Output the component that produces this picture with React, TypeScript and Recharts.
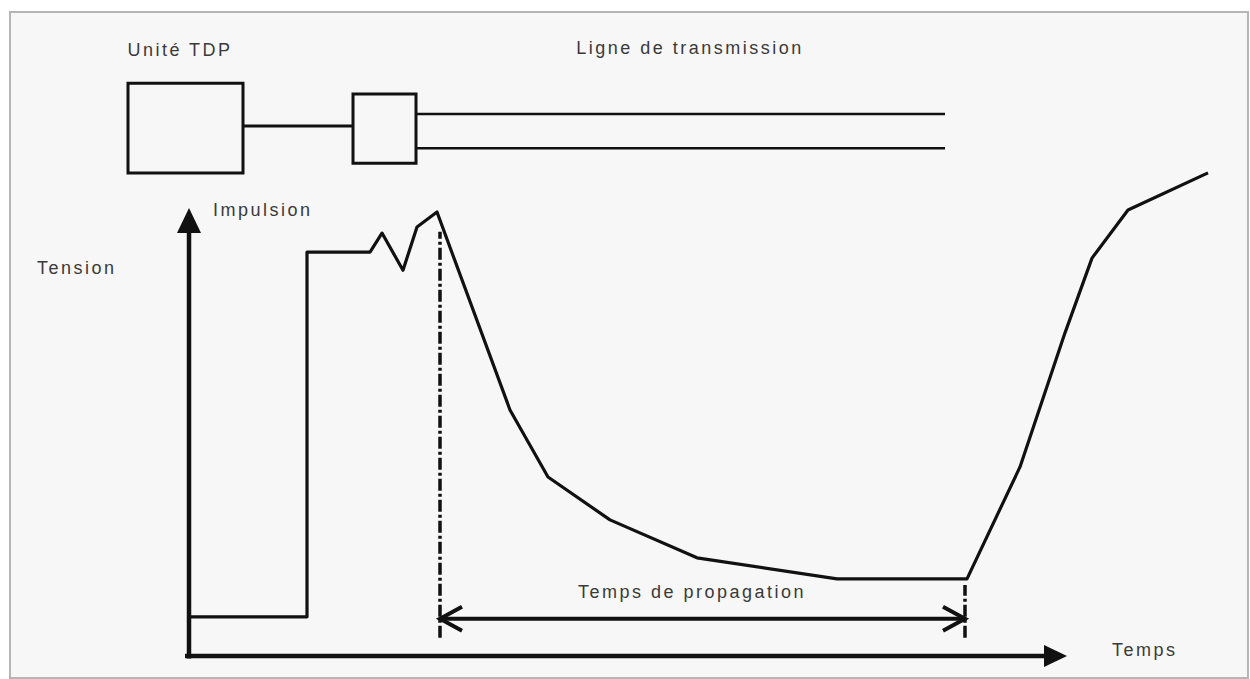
import { LineChart, Line, XAxis, YAxis, ReferenceLine, ReferenceArea, ReferenceDot } from "recharts";

// time axis (arbitrary units) and the reflected voltage
const temps = [0, 11.8, 11.8, 18.1, 19.3, 21.4, 22.8, 24.8, 32.1, 35.9, 42.1, 50.8, 64.8, 77.8, 83.1, 87.6, 90.3, 93.9, 101.9];
const tension = [9.7, 9.7, 100, 100, 104.7, 95.5, 106.2, 109.9, 60.9, 44.3, 33.7, 24.3, 19.1, 19.1, 46.8, 80.0, 98.5, 110.4, 119.6];

// start / end of the propagation time, and level of the double arrow
const propagation = [25.1, 77.6];
const propagationLevel = 9.2;
const markerTops = [105, 17.6];
const markerBottom = 4.5;

// axis ends
const axisTimeEnd = 87.8;
const axisTensionEnd = 110.9;

// schematic at the top: TDR unit, connector, transmission line
const boxes = [
  { t1: -6.1, t2: 5.4, v1: 119.6, v2: 141.8 },
  { t1: 16.4, t2: 22.7, v1: 122.0, v2: 139.1 },
];
const wires = [
  { t1: 5.4, t2: 16.4, v: 131.2, w: 3 },
  { t1: 22.7, t2: 75.6, v: 134.2, w: 2.5 },
  { t1: 22.7, t2: 75.6, v: 125.7, w: 2.5 },
];

const labels = [
  { text: "Unité TDP", t: -0.9, v: 150.0, anchor: "middle" },
  { text: "Ligne de transmission", t: 50.1, v: 150.5, anchor: "middle" },
  { text: "Impulsion", t: 2.4, v: 110.4, anchor: "start" },
  { text: "Tension", t: -15.2, v: 96.0, anchor: "start" },
  { text: "Temps de propagation", t: 50.3, v: 15.8, anchor: "middle" },
  { text: "Temps", t: 92.3, v: 1.5, anchor: "start" },
];

const data = temps.map((t, i) => ({ t, v: tension[i] }));

const INK = "#111";

const TextShape = (text: string, anchor: string) => (p: any) => (
  <text
    x={p.cx}
    y={p.cy}
    textAnchor={anchor}
    dominantBaseline="central"
    fontFamily="'Liberation Sans', Arial, sans-serif"
    fontSize={18}
    letterSpacing={2.5}
    fill="#3a3a3a"
  >
    {text}
  </text>
);

const ArrowUp = (p: any) => (
  <path d={`M${p.cx},${p.cy} L${p.cx - 12},${p.cy + 25} L${p.cx + 12},${p.cy + 25} Z`} fill={INK} />
);
const ArrowRight = (p: any) => (
  <path d={`M${p.cx},${p.cy} L${p.cx - 23},${p.cy - 11} L${p.cx - 23},${p.cy + 11} Z`} fill={INK} />
);
const OpenLeft = (p: any) => (
  <path d={`M${p.cx + 22},${p.cy - 12} L${p.cx},${p.cy} L${p.cx + 22},${p.cy + 12}`} fill="none" stroke={INK} strokeWidth={4} />
);
const OpenRight = (p: any) => (
  <path d={`M${p.cx - 22},${p.cy - 12} L${p.cx},${p.cy} L${p.cx - 22},${p.cy + 12}`} fill="none" stroke={INK} strokeWidth={4} />
);

export default function App() {
  return (
    <div style={{ position: "absolute", left: 0, top: 0, width: 1250, height: 679, background: "#fff" }}>
      <div
        style={{
          position: "absolute",
          left: 9,
          top: 11,
          width: 1236,
          height: 664,
          border: "2px solid #b5b5b5",
          background: "#f7f7f7",
        }}
      />
      <div style={{ position: "absolute", left: 0, top: 0 }}>
        <LineChart width={1250} height={679} data={data} margin={{ top: 0, right: 0, bottom: 0, left: 0 }}>
          <XAxis type="number" dataKey="t" domain={[-18.9, 106.1]} allowDataOverflow hide />
          <YAxis type="number" domain={[-5.7, 162.4]} allowDataOverflow hide />

          {boxes.map((b, i) => (
            <ReferenceArea key={`b${i}`} x1={b.t1} x2={b.t2} y1={b.v1} y2={b.v2} fill="none" stroke={INK} strokeWidth={3} fillOpacity={0} strokeOpacity={1} ifOverflow="visible" />
          ))}
          {wires.map((w, i) => (
            <ReferenceLine key={`w${i}`} segment={[{ x: w.t1, y: w.v }, { x: w.t2, y: w.v }]} stroke={INK} strokeWidth={w.w} ifOverflow="visible" />
          ))}

          {/* axes */}
          <ReferenceLine segment={[{ x: 0, y: -0.6 }, { x: 0, y: axisTensionEnd - 5 }]} stroke={INK} strokeWidth={4.5} ifOverflow="visible" />
          <ReferenceLine segment={[{ x: -0.4, y: 0 }, { x: axisTimeEnd - 2, y: 0 }]} stroke={INK} strokeWidth={4.5} ifOverflow="visible" />
          <ReferenceDot x={0} y={axisTensionEnd} r={1} shape={ArrowUp} ifOverflow="visible" />
          <ReferenceDot x={axisTimeEnd} y={0} r={1} shape={ArrowRight} ifOverflow="visible" />

          {/* propagation markers */}
          {propagation.map((t, i) => (
            <ReferenceLine key={`m${i}`} segment={[{ x: t, y: markerBottom }, { x: t, y: markerTops[i] }]} stroke={INK} strokeWidth={3.5} strokeDasharray="12 3 3 3" ifOverflow="visible" />
          ))}
          <ReferenceLine segment={[{ x: propagation[0], y: propagationLevel }, { x: propagation[1], y: propagationLevel }]} stroke={INK} strokeWidth={4} ifOverflow="visible" />
          <ReferenceDot x={propagation[0]} y={propagationLevel} r={1} shape={OpenLeft} ifOverflow="visible" />
          <ReferenceDot x={propagation[1]} y={propagationLevel} r={1} shape={OpenRight} ifOverflow="visible" />

          <Line type="linear" dataKey="v" stroke={INK} strokeWidth={3.2} dot={false} activeDot={false} isAnimationActive={false} strokeLinejoin="round" />

          {labels.map((l, i) => (
            <ReferenceDot key={`l${i}`} x={l.t} y={l.v} r={1} shape={TextShape(l.text, l.anchor)} ifOverflow="visible" />
          ))}
        </LineChart>
      </div>
    </div>
  );
}
